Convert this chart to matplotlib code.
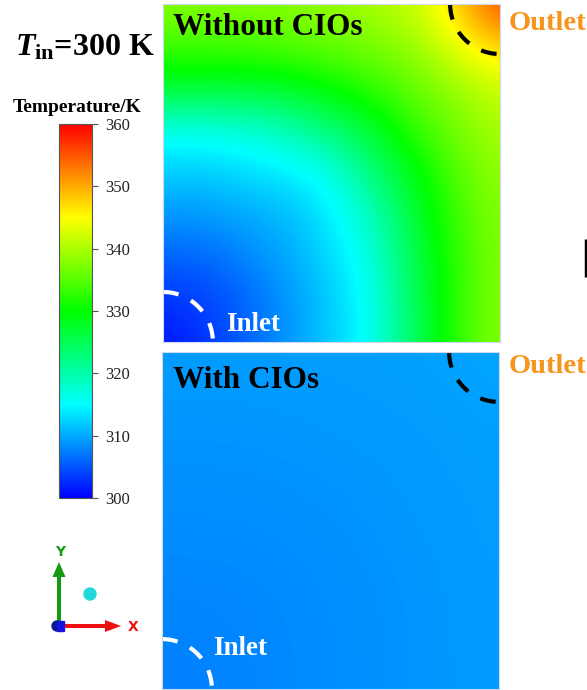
import numpy as np
import matplotlib.pyplot as plt
from matplotlib.cm import ScalarMappable
from matplotlib.colors import LinearSegmentedColormap, Normalize
from matplotlib.patches import Circle, FancyArrow, Rectangle

plt.rcParams["font.family"] = ["Liberation Serif", "DejaVu Serif"]
plt.rcParams["mathtext.fontset"] = "custom"
plt.rcParams["mathtext.rm"] = "Liberation Serif:bold"
plt.rcParams["mathtext.it"] = "Liberation Serif:bold:italic"
plt.rcParams["mathtext.bf"] = "Liberation Serif:bold"

# Temperature samples (K) on a regular grid over the square domain.
# Rows go from the outlet (top) edge down to the inlet (bottom) edge,
# columns from the left edge to the right edge.
t_without = np.array([
    [338, 338, 338, 338, 339, 340, 342, 348, 356],
    [334, 334, 334, 335, 336, 337, 339, 344, 348],
    [327, 327, 327, 328, 330, 333, 336, 339, 342],
    [316, 316, 317, 319, 323, 327, 333, 337, 340],
    [312, 312, 313, 314, 316, 323, 329, 335, 339],
    [309, 309, 310, 311, 314, 319, 327, 334, 338],
    [306, 306, 308, 310, 313, 317, 326, 333, 338],
    [303, 304, 306, 309, 312, 316, 325, 333, 338],
    [301, 303, 306, 309, 312, 316, 325, 333, 338],
])
t_with = np.array([
    [309.3, 309.3, 309.4, 309.5, 309.8],
    [308.8, 308.8, 309.0, 309.2, 309.5],
    [308.4, 308.4, 308.6, 309.0, 309.4],
    [307.9, 308.0, 308.4, 308.8, 309.3],
    [307.4, 307.9, 308.4, 308.8, 309.3],
])

t_min, t_max = 300, 360
cbar_ticks = [300, 310, 320, 330, 340, 350, 360]
panel_titles = ["Without CIOs", "With CIOs"]

rainbow = LinearSegmentedColormap.from_list(
    "fluent", ["#0000ff", "#00ffff", "#00ff00", "#ffff00", "#ff0000"], N=512)
norm = Normalize(t_min, t_max)

W, H = 587, 690
fig = plt.figure(figsize=(W / 100, H / 100), dpi=100)


def px_axes(x0, y0, x1, y1):
    return fig.add_axes([x0 / W, 1 - y1 / H, (x1 - x0) / W, (y1 - y0) / H])


def draw_field(ax, field):
    half = 0.5 / (field.shape[0] - 1)
    ax.imshow(field, cmap=rainbow, norm=norm, interpolation="bicubic",
              origin="upper", extent=(-half, 1 + half, -half, 1 + half),
              aspect="auto")
    ax.set_xlim(0, 1)
    ax.set_ylim(0, 1)
    ax.set_xticks([])
    ax.set_yticks([])
    for sp in ax.spines.values():
        sp.set_color("#cfd8ec")
        sp.set_linewidth(0.8)

    # inlet / outlet port outlines
    r = 0.148
    th = np.linspace(np.pi, 1.5 * np.pi, 80)
    ax.plot(1 + r * np.cos(th), 1 + r * np.sin(th), color="black", lw=3,
            ls=(0, (3.8, 3.3)), dash_capstyle="butt")
    th = np.linspace(0.5 * np.pi, 0, 80)
    ax.plot(r * np.cos(th), r * np.sin(th), color="white", lw=3,
            ls=(0, (3.8, 3.3)), dash_capstyle="butt")


ax_top = px_axes(163, 4, 500, 342)
draw_field(ax_top, t_without)
ax_bot = px_axes(162, 352, 499, 689)
draw_field(ax_bot, t_with)

# colour bar
cax = px_axes(59, 124, 92, 498)
cb = fig.colorbar(ScalarMappable(norm=norm, cmap=rainbow), cax=cax,
                  ticks=cbar_ticks)
cb.outline.set_edgecolor("#555555")
cb.outline.set_linewidth(0.8)
cax.tick_params(length=4.3, width=0.8, color="#555555", labelsize=12,
                pad=5.5, labelcolor="#222222")

# annotation layer in pixel coordinates
ov = fig.add_axes([0, 0, 1, 1])
ov.set_xlim(0, W)
ov.set_ylim(H, 0)
ov.axis("off")

ov.text(15, 55, r"$T_{\rm in}$=300 K", size=23, weight="bold",
        va="baseline")
ov.text(77, 112, "Temperature/K", size=14, weight="bold",
        ha="center", va="baseline")

ov.text(173, 35, panel_titles[0], size=22.5, weight="bold", va="baseline")
ov.text(173, 388, panel_titles[1], size=22.5, weight="bold", va="baseline")
ov.text(226, 331, "Inlet", size=19.5, weight="bold", color="white",
        va="baseline")
ov.text(213, 655, "Inlet", size=19.5, weight="bold", color="white",
        va="baseline")
ov.text(509, 30, "Outlet", size=20.5, weight="bold", color="#f7941d",
        va="baseline")
ov.text(509, 373, "Outlet", size=20.5, weight="bold", color="#f7941d",
        va="baseline")

ov.plot([585.5, 585.5], [239, 277], color="black", lw=2.5,
        solid_capstyle="butt")

# coordinate triad
ov.add_patch(FancyArrow(59, 627, 0, -65, width=4, head_width=13,
                        head_length=15, length_includes_head=True,
                        color="#129a12", lw=0))
ov.add_patch(FancyArrow(59, 626, 62, 0, width=4, head_width=12,
                        head_length=16, length_includes_head=True,
                        color="#f01010", lw=0))
ov.add_patch(Circle((57, 626), 5, color="#0a1a8a"))
ov.add_patch(Rectangle((57, 621), 7, 10, color="#1414e0"))
ov.add_patch(Circle((90, 594), 6, color="#22d8dc"))
ov.text(60, 552, "Y", family="DejaVu Sans", size=10, weight="bold",
        color="#129a12", ha="center", va="center")
ov.text(133, 627, "X", family="DejaVu Sans", size=10, weight="bold",
        color="#f01010", ha="center", va="center")

fig.savefig("out.png", dpi=100)
